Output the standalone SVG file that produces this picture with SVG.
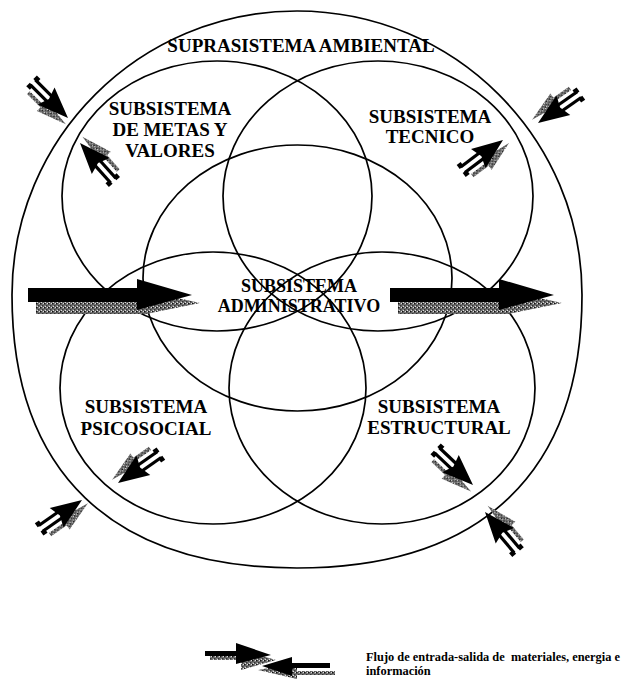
<svg xmlns="http://www.w3.org/2000/svg" xmlns:xlink="http://www.w3.org/1999/xlink" width="622" height="683" viewBox="0 0 622 683">
<style>
.ring{fill:none;stroke:#000;stroke-width:1.7}
.lbl{font-family:"Liberation Serif","Times New Roman",serif;font-weight:bold;font-size:19px;fill:#000;text-anchor:middle}
.lbl18{font-size:18px}
.leg{font-family:"Liberation Serif","Times New Roman",serif;font-weight:bold;font-size:12.4px;fill:#000}
.blk{fill:#000}
.st{fill:url(#stip)}
</style>
<defs>
<pattern id="stip" width="4" height="4" patternUnits="userSpaceOnUse">
<rect width="4" height="4" fill="#7a7a7a"/>
<rect x="0" y="0" width="1.5" height="1.5" fill="#111"/>
<rect x="2" y="2" width="1.5" height="1.5" fill="#333"/>
<rect x="3" y="0" width="1" height="1" fill="#ddd"/>
<rect x="1" y="3" width="1" height="1" fill="#ddd"/>
</pattern>
<g id="sm">
<polygon class="st" points="3,6 -27,17 -27,3"/>
<rect class="st" x="-46" y="8" width="20" height="4"/>
<polygon class="blk" points="0,0 -31,-12 -27,0 -31,12"/>
<rect class="blk" x="-50" y="-5.5" width="24" height="3.2"/>
<rect class="blk" x="-50" y="1.5" width="24" height="3.2"/>
<rect class="blk" x="-52" y="-8" width="5" height="5"/>
<rect class="blk" x="-52" y="2" width="5" height="5"/>
</g>
<g id="big">
<polygon class="st" points="8,7 118,7 118,-4 172,8 118,19 8,19"/>
<polygon class="blk" points="0,-7 109,-7 109,-16 164,0 109,15 109,7 0,7"/>
</g>
</defs>

<g id="suprasistema-ambiental">
<path class="ring" d="M297,11 C454,11 582,138 582,295 C582,472 482,568 297,568 C112,568 12,472 12,295 C12,138 140,11 297,11 Z"/>
<text class="lbl" x="301" y="52">SUPRASISTEMA AMBIENTAL</text>
</g>

<g id="subsistema-metas-valores">
<ellipse class="ring" cx="217" cy="196" rx="155" ry="135"/>
<text class="lbl" x="170" y="115">SUBSISTEMA</text>
<text class="lbl" x="170" y="136">DE METAS Y</text>
<text class="lbl" x="170" y="157">VALORES</text>
</g>

<g id="subsistema-tecnico">
<ellipse class="ring" cx="378" cy="196" rx="155" ry="135"/>
<text class="lbl" x="430" y="123">SUBSISTEMA</text>
<text class="lbl" x="430" y="143">TECNICO</text>
</g>

<g id="subsistema-psicosocial">
<ellipse class="ring" cx="213" cy="388" rx="153" ry="136"/>
<text class="lbl" x="146" y="413">SUBSISTEMA</text>
<text class="lbl" x="146" y="435">PSICOSOCIAL</text>
</g>

<g id="subsistema-estructural">
<ellipse class="ring" cx="382" cy="388" rx="153" ry="136"/>
<text class="lbl" x="439" y="413">SUBSISTEMA</text>
<text class="lbl" x="439" y="434">ESTRUCTURAL</text>
</g>

<g id="subsistema-administrativo">
<ellipse class="ring" cx="297.5" cy="278" rx="154.5" ry="133"/>
<text class="lbl lbl18" x="299" y="292">SUBSISTEMA</text>
<text class="lbl lbl18" x="299" y="312">ADMINISTRATIVO</text>
</g>

<g id="flows">
<use xlink:href="#big" href="#big" transform="translate(28,295)"/>
<use xlink:href="#big" href="#big" transform="translate(390,295)"/>
<use xlink:href="#sm" href="#sm" transform="translate(68,118) rotate(45)"/>
<use xlink:href="#sm" href="#sm" transform="translate(80,143) rotate(228)"/>
<use xlink:href="#sm" href="#sm" transform="translate(538,123) rotate(145)"/>
<use xlink:href="#sm" href="#sm" transform="translate(503,140) rotate(-37)"/>
<use xlink:href="#sm" href="#sm" transform="translate(118,483) rotate(145)"/>
<use xlink:href="#sm" href="#sm" transform="translate(82,500) rotate(-35)"/>
<use xlink:href="#sm" href="#sm" transform="translate(473,485) rotate(43.5)"/>
<use xlink:href="#sm" href="#sm" transform="translate(485,512) rotate(230)"/>
</g>

<g id="legend">
<polygon class="st" points="210,656 241,656 241,650 276,660 241,670 241,660 210,660"/>
<polygon class="blk" points="205,651 236,651 236,643 271,655 236,664 236,656 205,656"/>
<polygon class="st" points="335,671 297,671 297,663 258,670 297,679 297,675 335,675"/>
<polygon class="blk" points="330,663 292,663 292,657 262,666 292,676 292,668 330,668"/>
<text class="leg" x="366" y="661" xml:space="preserve">Flujo de entrada-salida de  materiales, energia e</text>
<text class="leg" x="366" y="675">información</text>
</g>
</svg>
